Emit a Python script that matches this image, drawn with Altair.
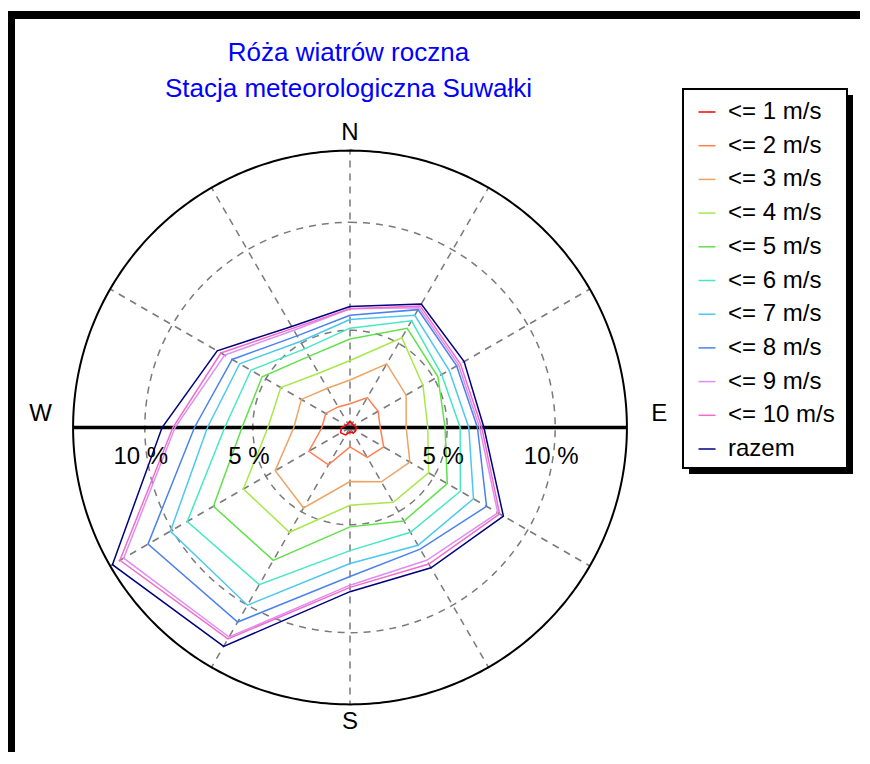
import altair as alt
import pandas as pd

# ---------------- data ----------------
title_lines = ["Róża wiatrów roczna", "Stacja meteorologiczna Suwałki"]
angles = [0, 30, 60, 90, 120, 150, 180, 210, 240, 270, 300, 330]
series = ["<= 1 m/s", "<= 2 m/s", "<= 3 m/s", "<= 4 m/s", "<= 5 m/s",
          "<= 6 m/s", "<= 7 m/s", "<= 8 m/s", "<= 9 m/s", "<= 10 m/s", "razem"]
colors = ["#ff0000", "#ff7f50", "#eda462", "#a8e84a", "#5fe24a", "#46e8c4",
          "#4cc8f0", "#4a82ee", "#dd8ff2", "#f26ccc", "#00007f"]

le1 = [0.8, 0.7, 0.7, 0.8, 0.8, 0.8, 0.7, 0.9, 1.0, 0.9, 0.7, 0.7]
le2 = [1.6, 2.1, 2.0, 1.9, 2.3, 2.1, 1.4, 2.5, 2.7, 1.8, 1.8, 1.6]
le3 = [2.7, 3.9, 3.5, 3.1, 3.7, 3.4, 3.0, 4.8, 4.5, 3.1, 3.1, 2.6]
le4 = [3.6, 5.3, 4.4, 4.1, 4.7, 4.5, 4.1, 6.1, 6.2, 4.3, 4.2, 3.4]
le5 = [4.6, 5.8, 5.2, 4.9, 5.7, 5.5, 5.1, 7.6, 7.8, 5.5, 5.2, 4.3]
le6 = [5.1, 6.2, 5.4, 5.6, 6.4, 6.1, 6.2, 8.9, 9.2, 6.3, 5.8, 4.7]
le7 = [5.5, 6.5, 5.8, 6.0, 7.1, 6.8, 6.8, 10.0, 10.1, 7.1, 6.4, 5.1]
le8 = [5.7, 6.8, 6.2, 6.4, 7.8, 7.0, 7.4, 10.9, 11.3, 7.7, 6.8, 5.4]
le9 = [6.0, 6.9, 6.3, 6.5, 8.4, 7.6, 7.8, 11.7, 12.6, 8.6, 7.2, 5.7]
le10 = [6.0, 7.0, 6.4, 6.6, 8.5, 7.8, 7.9, 11.8, 12.8, 8.7, 7.4, 5.8]
razem = [6.1, 7.1, 6.6, 6.7, 8.7, 8.0, 8.1, 12.2, 13.2, 9.2, 7.6, 5.9]

grid_levels = [5, 10]
pct_labels = [5, 10]
compass_ns = ["N", "S"]
compass_ns_angles = [0, 180]
compass_we = ["E", "W"]
compass_we_angles = [90, 270]

# ---------------- geometry / styling ----------------
R0 = 0.5        # radial axis minimum (centre)
R_OUT = 13.32   # radial axis maximum (outer circle)
W, H = 852, 744
CX, CY, K = 342, 419.5, 21.6
FONT = "Liberation Sans"

xs = alt.Scale(domain=[-CX / K, (W - CX) / K], nice=False, zero=False)
ys = alt.Scale(domain=[-(H - CY) / K, CY / K], nice=False, zero=False)

all_vals = [le1, le2, le3, le4, le5, le6, le7, le8, le9, le10, razem]
rows = []
for s, vals in zip(series, all_vals):
    for k in range(13):
        rows.append({"s": s, "k": k, "a": angles[k % 12], "v": vals[k % 12]})
df = pd.DataFrame(rows)

polar_xy = dict(px="(datum.rr)*sin(datum.a*PI/180)",
                py="(datum.rr)*cos(datum.a*PI/180)")


def X(f):
    return alt.X(f, scale=xs, axis=None)


def Y(f):
    return alt.Y(f, scale=ys, axis=None)


blank = alt.Data(values=[{}])

# frame borders
top_border = alt.Chart(blank).mark_rect(color="black").encode(
    x=alt.value(0), x2=alt.value(W), y=alt.value(3), y2=alt.value(11))
left_border = alt.Chart(blank).mark_rect(color="black").encode(
    x=alt.value(0), x2=alt.value(7), y=alt.value(3), y2=alt.value(H))

# dashed grid circles
circles = []
for lev in grid_levels:
    circles.append(
        alt.Chart(alt.sequence(0, 362, 2, as_="a"))
        .transform_calculate(rr=f"{lev - R0}", **polar_xy)
        .mark_line(color="#7a7a7a", strokeWidth=1.5, strokeDash=[7, 6])
        .encode(x=X("px:Q"), y=Y("py:Q"), order="a:Q")
    )
outer = (
    alt.Chart(alt.sequence(0, 362, 1, as_="a"))
    .transform_calculate(rr=f"{R_OUT - R0}", **polar_xy)
    .mark_line(color="black", strokeWidth=2)
    .encode(x=X("px:Q"), y=Y("py:Q"), order="a:Q")
)

# dashed spokes
spokes = (
    alt.Chart(pd.DataFrame({"a": angles}))
    .transform_calculate(x0="0", y0="0",
                         x1=f"{R_OUT - R0}*sin(datum.a*PI/180)",
                         y1=f"{R_OUT - R0}*cos(datum.a*PI/180)")
    .mark_rule(color="#7a7a7a", strokeWidth=1.5, strokeDash=[7, 6])
    .encode(x=X("x0:Q"), y=Y("y0:Q"), x2="x1:Q", y2="y1:Q")
)

# thick W-E axis line
axis_line = (
    alt.Chart(blank)
    .transform_calculate(x0=f"{-(R_OUT - R0)}", x1=f"{R_OUT - R0}", y0="0")
    .mark_rule(color="black", strokeWidth=3.5)
    .encode(x=X("x0:Q"), x2="x1:Q", y=Y("y0:Q"))
)

# wind rose lines
lines = (
    alt.Chart(df)
    .transform_calculate(rr=f"datum.v - {R0}", **polar_xy)
    .mark_line(strokeJoin="miter")
    .encode(
        x=X("px:Q"), y=Y("py:Q"),
        color=alt.Color("s:N", scale=alt.Scale(domain=series, range=colors),
                        legend=alt.Legend(orient="none", legendX=687, legendY=92,
                                          direction="vertical", title=None,
                                          symbolType="stroke", symbolSize=289,
                                          symbolStrokeWidth=2, labelFontSize=24,
                                          labelFont=FONT, labelColor="black",
                                          labelOffset=9, rowPadding=9.7, padding=0)),
        strokeWidth=alt.StrokeWidth("s:N", scale=alt.Scale(domain=series, range=[1.5] * 10 + [2.3]),
                                    legend=None),
        order=alt.Order("k:Q"),
    )
)

# percent labels along the W-E axis
pct_df = pd.DataFrame({"lev": pct_labels * 2, "side": [-1] * len(pct_labels) + [1] * len(pct_labels)})
pct = (
    alt.Chart(pct_df)
    .transform_calculate(px=f"datum.side*(datum.lev-{R0})", py="0",
                         t="datum.lev + ' %'")
    .mark_text(fontSize=24, font=FONT, color="black", dy=29, dx=-4, baseline="middle")
    .encode(x=X("px:Q"), y=Y("py:Q"), text="t:N")
)

# compass labels
ns = (
    alt.Chart(pd.DataFrame({"t": compass_ns, "a": compass_ns_angles}))
    .transform_calculate(rr=f"{R_OUT - R0 + 0.8}", **polar_xy)
    .mark_text(fontSize=24, font=FONT, color="black", baseline="middle")
    .encode(x=X("px:Q"), y=Y("py:Q"), text="t:N")
)
we = (
    alt.Chart(pd.DataFrame({"t": compass_we, "a": compass_we_angles}))
    .transform_calculate(rr=f"{R_OUT - R0 + 1.5}", **polar_xy)
    .mark_text(fontSize=24, font=FONT, color="black", baseline="middle", dy=-14)
    .encode(x=X("px:Q"), y=Y("py:Q"), text="t:N")
)

# title
t1 = alt.Chart(pd.DataFrame({"t": [title_lines[0]]})).mark_text(
    fontSize=26, font=FONT, color="#0000ff", baseline="middle").encode(
    x=alt.value(340.5), y=alt.value(45), text="t:N")
t2 = alt.Chart(pd.DataFrame({"t": [title_lines[1]]})).mark_text(
    fontSize=26, font=FONT, color="#0000ff", baseline="middle").encode(
    x=alt.value(340.5), y=alt.value(81), text="t:N")

# legend frame with shadow
shadow = alt.Chart(blank).mark_rect(color="black").encode(
    x=alt.value(681), x2=alt.value(845), y=alt.value(87), y2=alt.value(466))
box = alt.Chart(blank).mark_rect(fill="white", stroke="black", strokeWidth=2).encode(
    x=alt.value(675), x2=alt.value(839), y=alt.value(81), y2=alt.value(460))

chart = alt.layer(
    top_border, left_border, *circles, spokes, axis_line, outer, lines,
    pct, ns, we, t1, t2, shadow, box
).properties(
    width=W, height=H, padding=0,
    autosize=alt.AutoSizeParams(type="none"),
).configure_view(strokeWidth=0)

chart.save("out.html", embed_options={"renderer": "svg", "actions": False})
